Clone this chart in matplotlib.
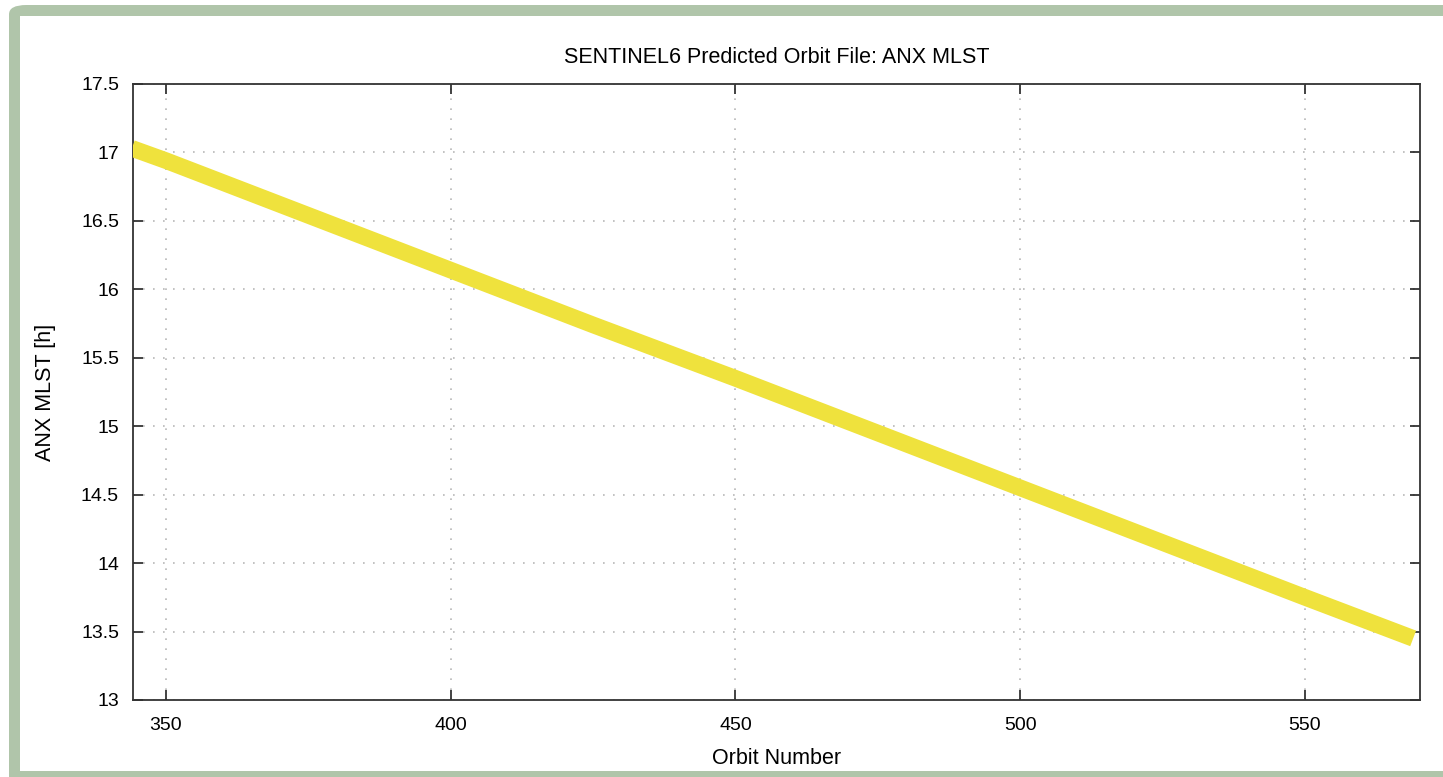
import matplotlib
matplotlib.use("Agg")
import matplotlib.pyplot as plt
from matplotlib.patches import FancyBboxPatch, Rectangle
from matplotlib.ticker import FuncFormatter

# values
orbit = [344, 350, 375, 400, 425, 450, 475, 500, 525, 550, 569]
mlst = [17.03, 16.94, 16.54, 16.14, 15.74, 15.35, 14.95, 14.55, 14.15, 13.75, 13.45]

x_ticks = [350, 400, 450, 500, 550]
y_ticks = [13, 13.5, 14, 14.5, 15, 15.5, 16, 16.5, 17, 17.5]

W, H = 1443, 777
plt.rcParams['font.family'] = ['Liberation Sans', 'DejaVu Sans']

fig = plt.figure(figsize=(W / 100, H / 100), dpi=100)

# green frame round the plot window
frame = FancyBboxPatch((9 / W, -0.05), 1.1, 1.05 - 5 / H,
                       boxstyle="round,pad=0,rounding_size=0.012",
                       transform=fig.transFigure, facecolor='#b0c5aa',
                       edgecolor='none', zorder=0)
fig.patches.append(frame)
inner = Rectangle((20 / W, 6 / H), 1.0, 1 - 22 / H, transform=fig.transFigure,
                  facecolor='white', edgecolor='none', zorder=0.5)
fig.patches.append(inner)

ax = fig.add_axes([133 / W, (H - 700) / H, (1420 - 133) / W, (700 - 84) / H])
ax.set_zorder(2)

ax.plot(orbit, mlst, color='#efe23d', linewidth=12, solid_capstyle='butt', zorder=3)

ax.set_xlim(344.2, 570.2)
ax.set_ylim(13, 17.5)
ax.set_xticks(x_ticks)
ax.set_yticks(y_ticks)
ax.yaxis.set_major_formatter(FuncFormatter(lambda v, p: f"{v:g}"))

ax.grid(True, color='#b8b8b8', linestyle=(0, (1, 5)), linewidth=1.2)
ax.tick_params(direction='in', length=7, width=1.2, top=True, right=True,
               labelsize=14, colors='#222222', labelcolor='black')
ax.tick_params(axis='x', pad=12)
ax.tick_params(axis='y', pad=10)
for s in ax.spines.values():
    s.set_linewidth(1.3)
    s.set_color('#333333')

ax.set_title("SENTINEL6 Predicted Orbit File: ANX MLST", fontsize=15.5, pad=15)
ax.set_xlabel("Orbit Number", fontsize=15.5, labelpad=10)
ax.set_ylabel("ANX MLST [h]", fontsize=15.5, labelpad=18)

fig.savefig("out.png", dpi=100)
